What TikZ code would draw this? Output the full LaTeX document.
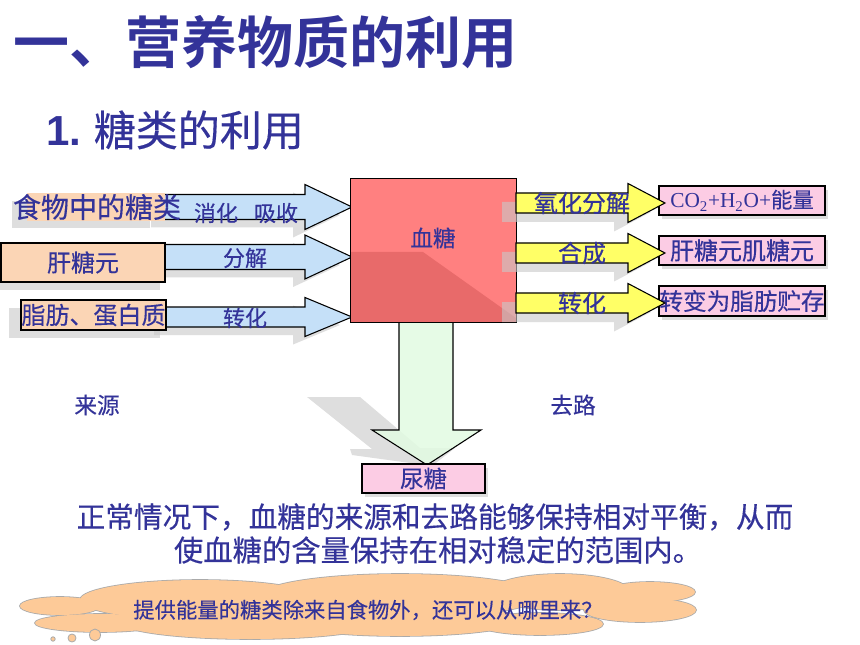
\documentclass[tikz,border=0pt]{standalone}
\usepackage{fontspec}
\setmainfont{Noto Sans CJK SC}[FakeBold=0.35, BoldFont={Noto Sans CJK SC Bold}, BoldFeatures={FakeBold=0}]
\newfontfamily\arialf{Liberation Sans}
\newfontfamily\timesf{Liberation Serif}
\definecolor{tblue}{RGB}{51,51,153}
\definecolor{peach}{RGB}{251,213,181}
\definecolor{arrblue}{RGB}{197,224,248}
\definecolor{arryellow}{RGB}{255,255,102}
\definecolor{arrgreen}{RGB}{226,251,226}
\definecolor{pinkc}{RGB}{252,204,228}
\definecolor{redbox}{RGB}{255,128,128}
\definecolor{reddark}{RGB}{232,106,106}
\definecolor{cloudc}{RGB}{253,202,152}
\definecolor{cloudedge}{RGB}{170,170,170}
\definecolor{shadowgray}{RGB}{200,200,200}
\newcommand\fs[1]{\fontsize{#1}{#1}\selectfont}
% [style]{x1}{x2}{x3}{yc}{h}{H}
\newcommand\rightblock[7][]{\path[#1] (#2,#5-#6) -- (#3,#5-#6) -- (#3,#5-#7) -- (#4,#5) -- (#3,#5+#7) -- (#3,#5+#6) -- (#2,#5+#6) -- cycle;}
% {name}{x1}{y1}{x2}{y2}{style}{text}
\newcommand\bx[7]{\node[#6, minimum width={(#4-#2)*0.75pt}, minimum height={(#5-#3)*0.75pt}] (#1) at ({(#2+#4)/2},{(#3+#5)/2}) {#7};}
% cloud lobes
\newcommand\cloudlobes[1]{%
  \path[#1] (60,606) ellipse [x radius=40, y radius=9];
  \path[#1] (100,623) ellipse [x radius=65, y radius=9];
  \path[#1] (200,600) ellipse [x radius=120, y radius=20];
  \path[#1] (400,596) ellipse [x radius=140, y radius=22];
  \path[#1] (560,592) ellipse [x radius=70, y radius=18];
  \path[#1] (650,592) ellipse [x radius=45, y radius=10];
  \path[#1] (640,610) ellipse [x radius=56, y radius=12];
  \path[#1] (540,624) ellipse [x radius=63, y radius=11];
  \path[#1] (250,622) ellipse [x radius=130, y radius=17];
  \path[#1] (400,620) ellipse [x radius=120, y radius=16];
}
\tikzset{
  shd/.style={fill=shadowgray, fill opacity=0.6, draw=none},
  blarr/.style={fill=arrblue, draw=black, line width=0.8pt},
  yarr/.style={fill=arryellow, draw=black, line width=0.8pt},
  garr/.style={fill=arrgreen, fill opacity=0.85, draw=black, line width=0.8pt},
  lbl/.style={text=tblue, inner sep=0pt},
  peachbox/.style={fill=peach, draw=black, line width=0.8pt, inner sep=0pt, text=tblue},
  pinkbox/.style={fill=pinkc, draw=black, line width=0.8pt, inner sep=0pt, text=tblue},
  cloudline/.style={draw=cloudedge, line width=1.2pt},
  cloudfill/.style={fill=cloudc},
}
\begin{document}
\begin{tikzpicture}[x=0.75pt,y=-0.75pt]
\useasboundingbox (0,0) rectangle (860,645);
\fill[white] (0,0) rectangle (860,645);

% titles
\node[lbl, font={\fs{42}\bfseries}] (title) at (265,42) {一、营养物质的利用};
\node[lbl, anchor=west, font=\fs{31.5}] (sub) at (46,130) {{\arialf\bfseries 1.} 糖类的利用};

% left shadows
\rightblock[shd, shift={(-12,8)}]{163}{305}{352}{207}{12.5}{22.5}
\rightblock[shd, shift={(-12,8)}]{165}{305}{352}{257}{12.5}{22}
\rightblock[shd, shift={(-12,8)}]{166}{305}{352}{317}{10}{19.5}
\fill[shd] (-10,250) rectangle (160,290);
\fill[shd] (9,308) rectangle (160,338);
\fill[shd] (12,201) rectangle (150,228);

% left arrows
\rightblock[blarr]{163}{305}{352}{207}{12.5}{22.5}
\rightblock[blarr]{165}{305}{352}{257}{12.5}{22}
\rightblock[blarr]{166}{305}{352}{317}{10}{19.5}

% source boxes
\fill[peach] (27,193) rectangle (165,221);
\bx{gly}{1}{243}{165}{282}{peachbox, font=\fs{18}}{肝糖元}
\bx{fat}{21}{300}{166}{330}{peachbox, font=\fs{18}}{脂肪、蛋白质}
\node[lbl, font=\fs{21}] (food) at (97,207) {食物中的糖类};

% down arrow shadow and arrow
\fill[shd] (307,397) -- (360,397) -- (420,448) -- (455,448) -- (432,466) -- (352,455) -- (350,449) -- (372,449) -- cycle;
\path[garr] (399,318) -- (453,318) -- (453,430) -- (481,430) -- (427,465) -- (372,430) -- (399,430) -- cycle;

% blood sugar box
\node[fill=redbox, draw=none, minimum width={165*0.75pt}, minimum height={143*0.75pt}, inner sep=0pt] (blood) at (433.5,250.5) {};
\fill[reddark] (351,252) -- (423,252) -- (516,318) -- (516,322) -- (351,322) -- cycle;
\draw[line width=0.8pt] (blood.north west) rectangle (blood.south east);
\node[lbl, font=\fs{17}] (bloodtxt) at (433,238) {血糖};

% pink boxes shadows
\fill[shd] (662,190) rectangle (828,219);
\fill[shd] (662,240) rectangle (828,269);
\fill[shd] (662,290) rectangle (828,320);
\fill[shd] (365,468) rectangle (488,497);

% pink boxes
\bx{co2}{659}{186}{825}{215}{pinkbox, font=\fs{16}}{{\timesf CO\textsubscript{2}+H\textsubscript{2}O+}能量}
\bx{store}{659}{236}{825}{265}{pinkbox, font=\fs{18}}{肝糖元肌糖元}
\bx{conv}{659}{286}{825}{316}{pinkbox, font=\fs{17.7}}{转变为脂肪贮存}

% right shadows and arrows
\rightblock[shd, shift={(-14,9)}]{516}{628}{665}{203}{10}{19.5}
\rightblock[shd, shift={(-14,9)}]{516}{628}{665}{253}{10}{19.5}
\rightblock[shd, shift={(-14,9)}]{516}{628}{665}{303}{10}{19.5}
\rightblock[yarr]{516}{628}{665}{203}{10}{19.5}
\rightblock[yarr]{516}{628}{665}{253}{10}{19.5}
\rightblock[yarr]{516}{628}{665}{303}{10}{19.5}

% urine sugar box
\bx{urine}{362}{464}{485}{493}{pinkbox, font=\fs{17.6}}{尿糖}

% arrow labels
\node[lbl, font=\fs{16.5}] (l1) at (246,213) {消化\hspace{12pt}吸收};
\node[lbl, font=\fs{16.5}] (l2) at (245,258) {分解};
\node[lbl, font=\fs{16.5}] (l3) at (245,318) {转化};
\node[lbl, font=\fs{18}] (r1) at (582,203) {氧化分解};
\node[lbl, font=\fs{18}] (r2) at (582,253) {合成};
\node[lbl, font=\fs{18}] (r3) at (582,303) {转化};
\node[lbl, font=\fs{17}] (src) at (97,405) {来源};
\node[lbl, font=\fs{17}] (dst) at (573,405) {去路};

% body text
\node[lbl, font=\fs{21.5}] (body1) at (435,517) {正常情况下，血糖的来源和去路能够保持相对平衡，从而};
\node[lbl, font=\fs{22}] (body2) at (438,550) {使血糖的含量保持在相对稳定的范围内。};

% cloud (union of lobes)
\cloudlobes{cloudline}
\cloudlobes{cloudfill}
\coordinate (cloud) at (359,607);
\path[fill=cloudc, draw=cloudedge, line width=0.6pt] (53,639) circle [radius=2.2];
\path[fill=cloudc, draw=cloudedge, line width=0.6pt] (72,638) circle [radius=4];
\path[fill=cloudc, draw=cloudedge, line width=0.6pt] (95,635) ellipse [x radius=5.5, y radius=6];
\node[lbl, font=\fs{16}] (q) at (368,610) {提供能量的糖类除来自食物外，还可以从哪里来？};
\end{tikzpicture}
\end{document}
